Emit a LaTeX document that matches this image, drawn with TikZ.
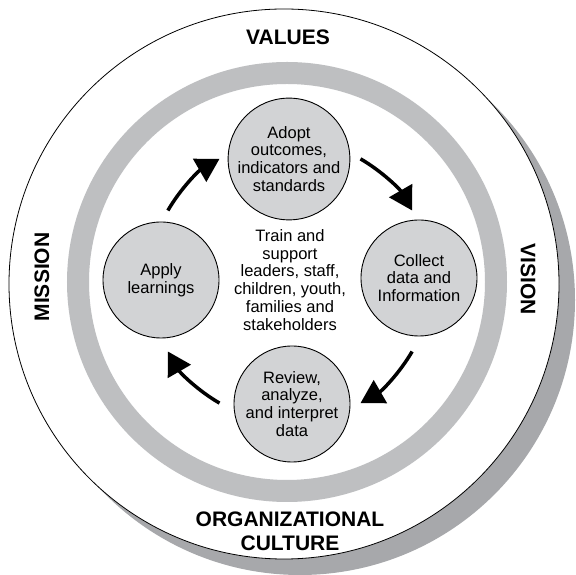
\documentclass[tikz,border=0pt]{standalone}
\usepackage{fontspec}
\setmainfont{Liberation Sans}
\usetikzlibrary{arrows.meta}
\definecolor{shadowgray}{HTML}{A7A8AB}
\definecolor{ringgray}{HTML}{BEBFC1}
\definecolor{nodegray}{HTML}{D2D3D5}
\begin{document}
\begin{tikzpicture}[x=1pt,y=1pt,
  stage/.style={circle, draw=black, line width=0.9pt, fill=nodegray, minimum size=116pt,
    inner sep=0pt, align=center, font=\fontsize{16.5}{17.8}\selectfont},
  hubtext/.style={align=center, inner sep=0pt, font=\fontsize{16.5}{17.8}\selectfont},
  bigword/.style={font=\fontsize{21}{23.5}\selectfont\bfseries, align=center, inner sep=0pt},
  cyc/.style={line width=3.5pt, -{Triangle[length=23pt,width=26pt]}},
]
\useasboundingbox (0,0) rectangle (576,575);
\clip (0,0) rectangle (576,575);
% shadow, outer disc, ring
\fill[shadowgray] (300,275) circle[radius=275];
\draw[line width=0.8pt, fill=white] (284,291) circle[radius=275];
\draw[ringgray, line width=22pt] (287,293) circle[radius=209];
% cycle stages
\node[stage] (adopt) at (289,416) {Adopt\\outcomes,\\indicators and\\standards};
\node[stage] (collect) at (419,297) {Collect\\data and\\Information};
\node[stage] (apply) at (161,295) {Apply\\learnings};
\node[stage] (review) at (292,171) {Review,\\analyze,\\and interpret\\data};
\node[hubtext] (train) at (290,295) {Train and\\support\\leaders, staff,\\children, youth,\\families and\\stakeholders};
% outer words
\node[bigword] (values) at (288,538) {VALUES};
\node[bigword] (culture) at (290,43.5) {ORGANIZATIONAL\\CULTURE};
\node[bigword, rotate=90] (mission) at (42,298) {MISSION};
\node[bigword, rotate=-90] (vision) at (528,296) {VISION};
% cycle arrows
\coordinate (hub) at (290,294);
\path (hub) ++(150:141) coordinate (t1);
\path (hub) ++(60:141) coordinate (t2);
\path (hub) ++(-30:141) coordinate (t3);
\path (hub) ++(-120:141) coordinate (t4);
\draw[cyc] (t1) arc[start angle=150, end angle=120, radius=141];
\draw[cyc] (t2) arc[start angle=60, end angle=30, radius=141];
\draw[cyc] (t3) arc[start angle=-30, end angle=-60, radius=141];
\draw[cyc] (t4) arc[start angle=-120, end angle=-150, radius=141];
\end{tikzpicture}
\end{document}
